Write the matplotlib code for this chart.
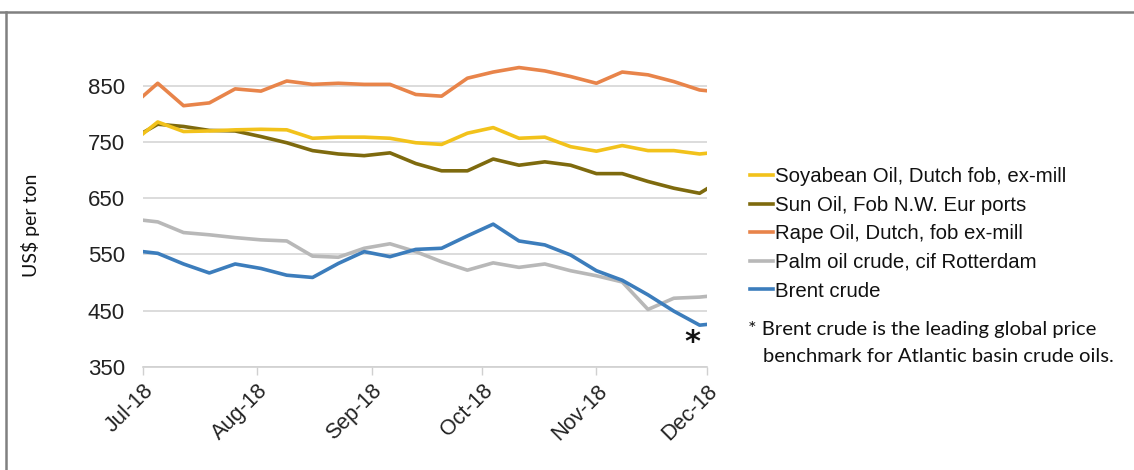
import matplotlib
matplotlib.use("Agg")
import matplotlib.pyplot as plt
from matplotlib.lines import Line2D
import datetime as dt

# ---- data ----
dates = ["2018-07-01", "2018-07-05", "2018-07-12", "2018-07-19", "2018-07-26",
         "2018-08-02", "2018-08-09", "2018-08-16", "2018-08-23", "2018-08-30",
         "2018-09-06", "2018-09-13", "2018-09-20", "2018-09-27", "2018-10-04",
         "2018-10-11", "2018-10-18", "2018-10-25", "2018-11-01", "2018-11-08",
         "2018-11-15", "2018-11-22", "2018-11-29", "2018-12-02"]
soyabean = [765, 786, 769, 770, 772, 773, 772, 757, 759, 759,
            757, 749, 746, 766, 776, 757, 759, 742, 734, 744,
            735, 735, 729, 731]
sun_oil = [767, 782, 778, 771, 770, 760, 749, 735, 729, 726,
           731, 712, 699, 699, 720, 709, 715, 709, 694, 694,
           680, 668, 659, 671]
rape_oil = [832, 855, 815, 820, 845, 841, 859, 853, 855, 853,
            853, 835, 832, 864, 875, 883, 877, 867, 855, 875,
            870, 858, 843, 841]
palm_oil = [611, 608, 589, 585, 580, 576, 574, 547, 545, 561,
            569, 555, 537, 522, 535, 527, 533, 521, 512, 501,
            452, 472, 474, 476]
brent = [555, 552, 533, 517, 533, 525, 513, 509, 534, 555,
         546, 559, 561, 583, 604, 574, 567, 549, 521, 504,
         478, 449, 424, 426]
series_names = ["Soyabean Oil, Dutch fob, ex-mill", "Sun Oil, Fob N.W. Eur ports",
                "Rape Oil, Dutch, fob ex-mill", "Palm oil crude, cif Rotterdam",
                "Brent crude"]
month_ticks = ["2018-07-01", "2018-08-01", "2018-09-01", "2018-10-01",
               "2018-11-01", "2018-12-01"]
y_ticks = [350, 450, 550, 650, 750, 850]
footnote = ["* Brent crude is the leading global price",
            "benchmark for Atlantic basin crude oils."]

colors = ["#F2C21B", "#7E6A0E", "#E8844A", "#B8B8B8", "#3C7DBC"]

W, H = 1134, 470
fig = plt.figure(figsize=(W / 100, H / 100), dpi=100)
fig.patch.set_facecolor("white")

def fx(px):
    return px / W

def fy(py):
    return 1 - py / H

ax = fig.add_axes([fx(143), fy(366.7), fx(707) - fx(143), fy(58) - fy(366.7)])

xd = [dt.datetime.strptime(d, "%Y-%m-%d") for d in dates]
all_series = [soyabean, sun_oil, rape_oil, palm_oil, brent]
order = [3, 4, 1, 0, 2]
for i in order:
    ax.plot(xd, all_series[i], color=colors[i], lw=2.6, solid_joinstyle="round",
            zorder=3)

xt = [dt.datetime.strptime(d, "%Y-%m-%d") for d in month_ticks]
ax.set_xlim(xt[0], xt[-1])
ax.set_ylim(350, 900)
ax.set_yticks(y_ticks)
ax.set_yticklabels([str(v) for v in y_ticks], fontsize=16, color="#222222",
                   family="Liberation Sans")
ax.set_xticks(xt)
ax.set_xticklabels([d.strftime("%b-%y") for d in xt], rotation=45, ha="right",
                   rotation_mode="anchor", fontsize=15.5, color="#222222",
                   family="Liberation Sans")
ax.tick_params(axis="y", length=0, pad=13)
ax.tick_params(axis="x", length=6, color="#D0D0D0", width=1, pad=4, direction="out")
ax.grid(axis="y", color="#D6D6D6", lw=1.2)
ax.set_axisbelow(True)
for s in ["top", "right", "left"]:
    ax.spines[s].set_visible(False)
ax.spines["bottom"].set_color("#D0D0D0")
ax.spines["bottom"].set_linewidth(1.2)

# asterisk near Brent end
ax.text(dt.datetime(2018, 11, 27), 393, "*", fontsize=22, ha="center", va="center",
        color="#111111", family="DejaVu Sans", fontweight="bold")

# y label
fig.text(fx(30), fy(225), "US$ per ton", rotation=90, ha="center", va="center",
         fontsize=14, family="Lato", color="#111111")

# legend
handles = [Line2D([0], [0], color=colors[i], lw=2.6) for i in range(5)]
leg = fig.legend(handles, series_names, loc="upper left",
                 bbox_to_anchor=(fx(742), fy(159)), frameon=False,
                 prop={"family": "Liberation Sans", "size": 14.7},
                 handlelength=1.1, handletextpad=0.1, labelspacing=0.47,
                 borderaxespad=0, borderpad=0.4)
for t in leg.get_texts():
    t.set_color("#111111")

# footnote
fig.text(fx(748), fy(329), footnote[0], ha="left", va="center", fontsize=14.6,
         family="Lato", color="#111111")
fig.text(fx(763), fy(357), footnote[1], ha="left", va="center", fontsize=14.6,
         family="Lato", color="#111111")

# frame lines (top and left)
fig.add_artist(Line2D([0, 1], [fy(12), fy(12)], color="#808080", lw=1.8,
                      transform=fig.transFigure))
fig.add_artist(Line2D([fx(6), fx(6)], [fy(12), 0], color="#808080", lw=1.8,
                      transform=fig.transFigure))

fig.savefig("out.png", dpi=100, facecolor="white")
